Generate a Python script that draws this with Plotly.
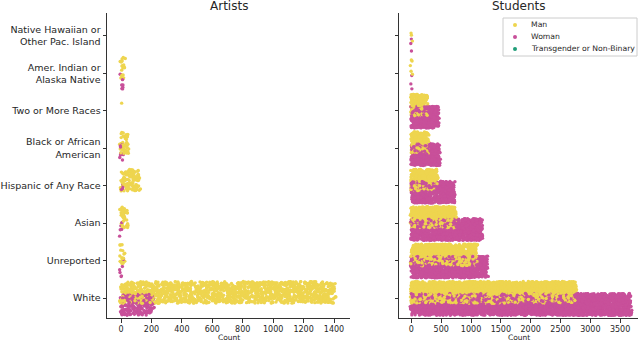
import numpy as np
import plotly.graph_objects as go

categories = [
    "Native Hawaiian or<br>Other Pac. Island",
    "Amer. Indian or<br>Alaska Native",
    "Two or More Races",
    "Black or African<br>American",
    "Hispanic of Any Race",
    "Asian",
    "Unreported",
    "White",
]
genders = ["Man", "Woman", "Transgender or Non-Binary"]

# people per category
artists_man = [0, 20, 1, 50, 120, 40, 18, 1405]
artists_woman = [0, 8, 0, 8, 4, 5, 6, 212]
artists_trans = [0, 0, 0, 0, 0, 0, 0, 0]

students_man = [3, 5, 270, 280, 430, 740, 1100, 2760]
students_woman = [3, 3, 450, 470, 720, 1180, 1270, 3680]
students_trans = [0, 0, 0, 0, 0, 0, 0, 0]

colors = {"Man": "#eed54f", "Woman": "#c8509a", "Transgender or Non-Binary": "#1f9e78"}
# dodge centre and half-width of the jitter band, in category units
dodge = {"Man": (-0.15, 0.29), "Woman": (0.17, 0.29), "Transgender or Non-Binary": (0.3, 0.1)}

FONT = "DejaVu Sans"
W, H = 640, 342


def hash01(idx, seed):
    # deterministic scatter in [0, 1) used only for strip-plot jitter
    return np.modf(np.abs(np.sin(idx * 12.9898 + seed * 78.233) * 43758.5453))[0]


def strip_points(counts, gender, xjit, seed):
    # one point per person, placed at its rank within the category
    xs, ys = [], []
    centre, half = dodge[gender]
    for k, n in enumerate(counts):
        idx = np.arange(n, dtype=float)
        u = hash01(idx, seed + k * 3.1)
        v = hash01(idx, seed + k * 3.1 + 1.7)
        xs.append(idx + (v - 0.5) * 2 * xjit)
        ys.append(k + centre + (u - 0.5) * 2 * half)
    if xs:
        return np.concatenate(xs), np.concatenate(ys)
    return np.array([]), np.array([])


fig = go.Figure()

panels = [
    ("x", "y", {"Man": artists_man, "Woman": artists_woman,
                "Transgender or Non-Binary": artists_trans}, 12, 1.0),
    ("x2", "y2", {"Man": students_man, "Woman": students_woman,
                  "Transgender or Non-Binary": students_trans}, 22, 40.0),
]
for xa, ya, series, xjit, seed in panels:
    all_x, all_y, all_c = [], [], []
    for g, gender in enumerate(genders):
        x, y = strip_points(series[gender], gender, xjit, seed + g * 11.0)
        all_x.append(x)
        all_y.append(y)
        all_c += [colors[gender]] * len(x)
    all_x = np.concatenate(all_x)
    all_y = np.concatenate(all_y)
    all_c = np.array(all_c)
    # interleave the genders so overlapping bands mix as in the original
    order = np.argsort(hash01(np.arange(len(all_x), dtype=float), seed + 5.5))
    fig.add_trace(go.Scatter(
        x=all_x[order], y=all_y[order], mode="markers",
        xaxis=xa, yaxis=ya,
        marker=dict(color=all_c[order], size=3.4, line=dict(width=0)),
        showlegend=False,
        hoverinfo="skip",
    ))

axis_common = dict(
    showline=True, linecolor="#333333", linewidth=1,
    ticks="outside", ticklen=3.5, tickcolor="#333333",
    showgrid=False, zeroline=False, automargin=False,
)

# legend drawn by hand so the rows sit as tight as in the reference
shapes = [dict(type="rect", xref="paper", yref="paper",
               x0=503 / W, x1=637 / W, y0=1 - 56 / H, y1=1 - 18 / H,
               line=dict(color="#cccccc", width=1), fillcolor="white")]
annotations = []
for i, gender in enumerate(genders):
    cy = 25 + i * 12
    shapes.append(dict(type="circle", xref="paper", yref="paper",
                       x0=(515 - 2) / W, x1=(515 + 2) / W,
                       y0=1 - (cy + 2) / H, y1=1 - (cy - 2) / H,
                       line=dict(width=0), fillcolor=colors[gender]))
    annotations.append(dict(text=gender, x=529 / W, y=1 - cy / H,
                            xref="paper", yref="paper", xanchor="left",
                            yanchor="middle", showarrow=False,
                            font=dict(size=7.7)))

for title, cx in [("Artists", 228.5), ("Students", 518.5)]:
    annotations.append(dict(text=title, x=cx / W, y=1, xref="paper", yref="paper",
                            xanchor="center", yanchor="top", yshift=3,
                            showarrow=False, font=dict(size=12)))
    annotations.append(dict(text="Count", x=cx / W, y=0, xref="paper", yref="paper",
                            xanchor="center", yanchor="bottom", yshift=-2,
                            showarrow=False, font=dict(size=7.5)))

fig.update_layout(
    width=W, height=H,
    margin=dict(l=0, r=0, t=0, b=0),
    paper_bgcolor="white", plot_bgcolor="white",
    font=dict(family=FONT, color="#262626"),
    showlegend=False,
    xaxis=dict(
        domain=[107 / W, 350 / W], range=[-92, 1505],
        tickvals=list(range(0, 1401, 200)), tickfont=dict(size=8),
        anchor="y", **axis_common,
    ),
    yaxis=dict(
        domain=[24 / H, 329 / H], range=[7.534, -0.614],
        tickvals=list(range(len(categories))), ticktext=categories,
        tickfont=dict(size=9.5), anchor="x", **axis_common,
    ),
    xaxis2=dict(
        domain=[399 / W, 638 / W], range=[-208, 3800],
        tickvals=list(range(0, 3501, 500)), tickfont=dict(size=8),
        anchor="y2", **axis_common,
    ),
    yaxis2=dict(
        domain=[24 / H, 329 / H], range=[7.534, -0.614],
        tickvals=list(range(len(categories))), showticklabels=False,
        anchor="x2", **axis_common,
    ),
    shapes=shapes,
    annotations=annotations,
)

fig.write_html("out.html", config={"displayModeBar": False},
               post_script="document.body.style.margin='0';document.body.style.overflow='hidden';")
